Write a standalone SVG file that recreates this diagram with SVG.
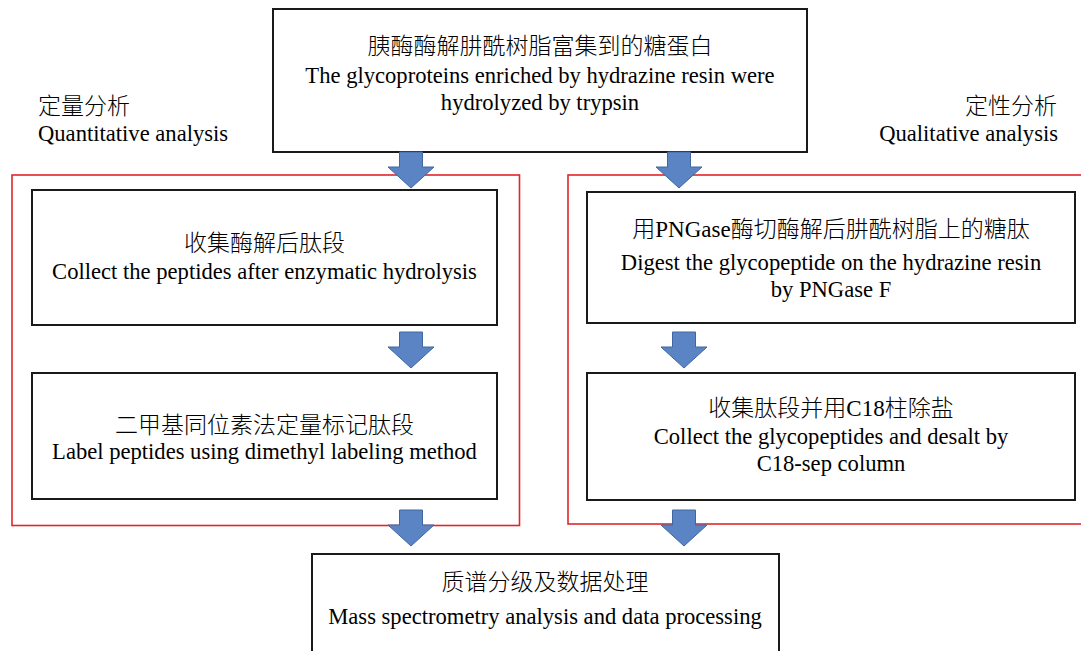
<svg xmlns="http://www.w3.org/2000/svg" width="1081" height="651" viewBox="0 0 1081 651">
<defs>
<style>
.box{fill:#ffffff;stroke:#1a1a1a;stroke-width:2}
.grp{fill:none;stroke:#e0262b;stroke-width:1.6}
.t{font-family:"Liberation Serif","Noto Sans CJK SC",serif;font-size:22.6px;fill:#000}
.cn{font-size:23px;font-weight:300}
.c{text-anchor:middle}
.arr{fill:#5b84c4;stroke:#41669f;stroke-width:1}
</style>
<path id="ar" d="M-11.5,0 H11.5 V15 H23 L0,36 L-23,15 H-11.5 Z"/>
</defs>
<rect width="1081" height="651" fill="#ffffff"/>
<g id="group-left"><rect class="grp" x="12" y="175" width="507.5" height="350.5"/></g>
<g id="group-right"><rect class="grp" x="568" y="175" width="520" height="349"/></g>
<g id="label-left">
<text class="t cn" x="38" y="114">定量分析</text>
<text class="t" x="38" y="141">Quantitative analysis</text>
</g>
<g id="label-right">
<text class="t cn" x="1057" y="114" text-anchor="end">定性分析</text>
<text class="t" x="1058" y="141" text-anchor="end">Qualitative analysis</text>
</g>
<g id="top">
<rect class="box" x="273" y="9" width="534" height="143"/>
<text class="t cn c" x="540" y="54">胰酶酶解肼酰树脂富集到的糖蛋白</text>
<text class="t c" x="540" y="83">The glycoproteins enriched by hydrazine resin were</text>
<text class="t c" x="540" y="110">hydrolyzed by trypsin</text>
</g>
<g id="left1">
<rect class="box" x="32" y="190" width="465" height="135"/>
<text class="t cn c" x="264.5" y="251">收集酶解后肽段</text>
<text class="t c" x="264.5" y="279">Collect the peptides after enzymatic hydrolysis</text>
</g>
<g id="left2">
<rect class="box" x="32" y="373" width="465" height="126"/>
<text class="t cn c" x="264.5" y="433">二甲基同位素法定量标记肽段</text>
<text class="t c" x="264.5" y="459">Label peptides using dimethyl labeling method</text>
</g>
<g id="right1">
<rect class="box" x="587" y="192" width="488" height="131"/>
<text class="t cn c" x="831" y="237">用PNGase酶切酶解后肼酰树脂上的糖肽</text>
<text class="t c" x="831" y="270">Digest the glycopeptide on the hydrazine resin</text>
<text class="t c" x="831" y="297">by PNGase F</text>
</g>
<g id="right2">
<rect class="box" x="587" y="373" width="488" height="127"/>
<text class="t cn c" x="831" y="416">收集肽段并用C18柱除盐</text>
<text class="t c" x="831" y="444">Collect the glycopeptides and desalt by</text>
<text class="t c" x="831" y="471">C18-sep column</text>
</g>
<g id="bottom">
<rect class="box" x="312" y="554" width="467" height="110"/>
<text class="t cn c" x="545" y="590">质谱分级及数据处理</text>
<text class="t c" x="545" y="624">Mass spectrometry analysis and data processing</text>
</g>
<g id="connectors">
<use href="#ar" class="arr" x="411" y="152"/>
<use href="#ar" class="arr" x="679" y="152"/>
<use href="#ar" class="arr" x="411" y="332"/>
<use href="#ar" class="arr" x="684" y="332"/>
<use href="#ar" class="arr" x="411" y="510"/>
<use href="#ar" class="arr" x="684" y="510"/>
</g>
</svg>
